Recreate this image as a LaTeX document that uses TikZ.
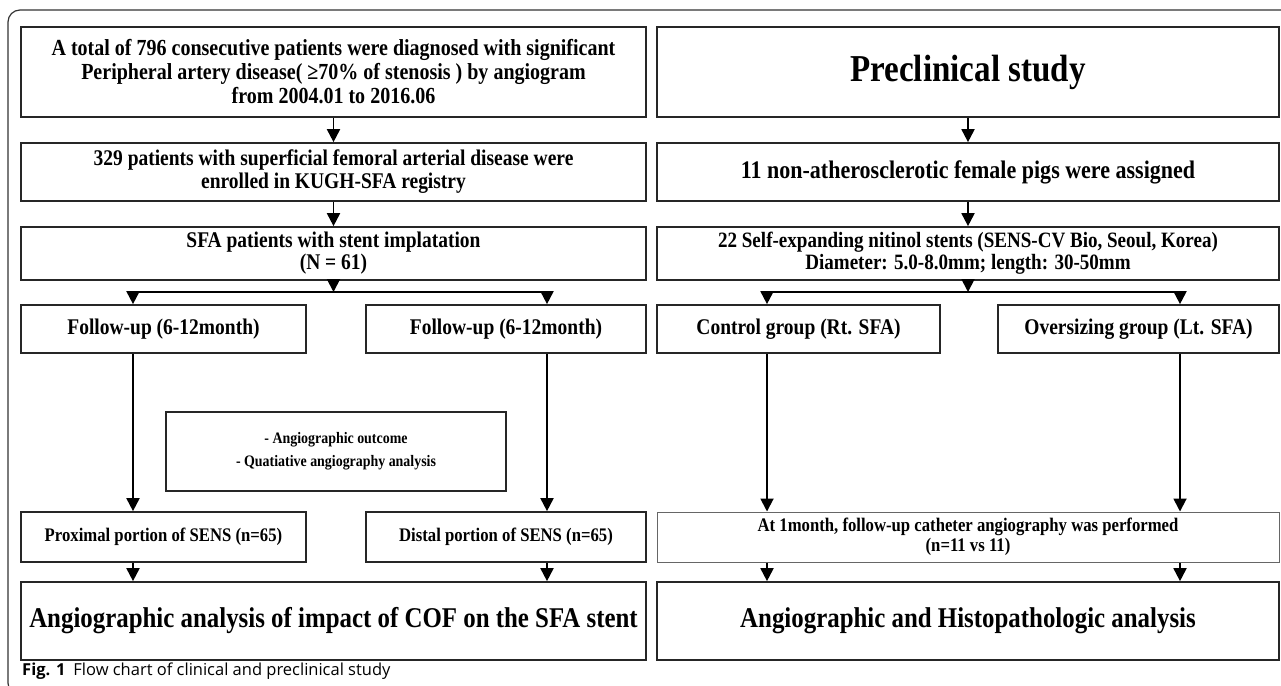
\documentclass[tikz,border=0pt]{standalone}
\usepackage{fontspec}
\setmainfont{Liberation Serif}[FakeStretch=0.87]
\newfontfamily\capfont{Open Sans}
\usetikzlibrary{arrows.meta}
\newcommand\fsz[2]{\fontsize{#1}{#2}\selectfont}
\tikzset{
  box/.style={draw=black!85, line width=1.7pt, inner sep=0pt, align=center},
  thinbox/.style={draw=black!60, line width=1pt, inner sep=0pt, align=center},
  arr/.style={line width=1.9pt, -{Triangle[length=13pt,width=13pt]}},
  ln/.style={line width=1.9pt},
  frame/.style={line width=1.2pt, draw=black!80, rounded corners=12pt},
}
\begin{document}
\begin{tikzpicture}[x=1pt,y=-1pt]
\useasboundingbox (0,0) rectangle (1281,685);
\clip (0,0) rectangle (1281,685);
\draw[frame] (1300,10) -- (8,10) -- (8,695) -- (1300,695);

% left column
\node[box, minimum width=625pt, minimum height=90pt, font=\bfseries\fsz{23}{24}] (L1) at (333.5,72)
 {A total of 796 consecutive patients were diagnosed with significant\\Peripheral artery disease( ≥70\% of stenosis ) by angiogram\\from 2004.01 to 2016.06};
\node[box, minimum width=625pt, minimum height=58pt, font=\bfseries\fsz{22.4}{23}] (L2) at (333.5,172)
 {329 patients with superficial femoral arterial disease were\\enrolled in KUGH-SFA registry};
\node[box, minimum width=625pt, minimum height=53pt, font=\bfseries\fsz{22.4}{22}] (L3) at (333.5,253.5)
 {SFA patients with stent implatation\\(N = 61)};
\node[box, minimum width=285pt, minimum height=48pt, font=\bfseries\fsz{22.4}{23}] (LA) at (163.5,329) {Follow-up (6-12month)};
\node[box, minimum width=280pt, minimum height=48pt, font=\bfseries\fsz{22.4}{23}] (LB) at (506,329) {Follow-up (6-12month)};
\node[box, line width=1.3pt, minimum width=340pt, minimum height=79pt, font=\bfseries\fsz{16}{23}] (O) at (336,451.5)
 {- Angiographic outcome\\- Quatiative angiography analysis};
\node[box, minimum width=285pt, minimum height=50pt, font=\bfseries\fsz{19.2}{20}] (P1) at (163.5,537) {Proximal portion of SENS (n=65)};
\node[box, minimum width=280pt, minimum height=50pt, font=\bfseries\fsz{19.2}{20}] (P2) at (506,537) {Distal portion of SENS (n=65)};
\node[box, minimum width=625pt, minimum height=78pt, font=\bfseries\fsz{28.6}{30}] (L6) at (333.5,621)
 {Angiographic analysis of impact of COF on the SFA stent};

% right column
\node[box, minimum width=622pt, minimum height=90pt, font=\bfseries\fsz{38}{40}] (R1) at (968,72) {Preclinical study};
\node[box, minimum width=622pt, minimum height=58pt, font=\bfseries\fsz{25.3}{26}] (R2) at (968,172) {11 non-atherosclerotic female pigs were assigned};
\node[box, minimum width=622pt, minimum height=53pt, font=\bfseries\fsz{21.9}{22}] (R3) at (968,253.5)
 {22 Self-expanding nitinol stents (SENS-CV Bio, Seoul, Korea)\\Diameter: 5.0-8.0mm; length: 30-50mm};
\node[box, minimum width=283pt, minimum height=48pt, font=\bfseries\fsz{22.4}{23}] (RA) at (798.5,329) {Control group (Rt. SFA)};
\node[box, minimum width=281pt, minimum height=48pt, font=\bfseries\fsz{22.4}{23}] (RB) at (1138.5,329) {Oversizing group (Lt. SFA)};
\node[thinbox, minimum width=622pt, minimum height=50pt, font=\bfseries\fsz{19.2}{20}] (R5) at (968,537)
 {At 1month, follow-up catheter angiography was performed\\(n=11 vs 11)};
\node[box, minimum width=622pt, minimum height=78pt, font=\bfseries\fsz{28.6}{30}] (R6) at (968,621)
 {Angiographic and Histopathologic analysis};

% caption
\node[anchor=west, inner sep=0pt, font=\capfont\fsz{16.5}{19}] (cap) at (22,671)
 {\textbf{Fig. 1}\hspace{8pt}Flow chart of clinical and preclinical study};

% left connectors
\draw[arr] (L1.south) -- (L2.north);
\draw[arr] (L2.south) -- (L3.north);
\coordinate (Lj) at (333.5,292);
\coordinate (La) at (133,292);
\coordinate (Lb) at (547,292);
\draw[arr] (L3.south) -- (Lj);
\draw[ln] (La) -- (Lb);
\draw[arr] (La) -- (La |- LA.north);
\draw[arr] (Lb) -- (Lb |- LB.north);
\draw[arr] (La |- LA.south) -- (La |- P1.north);
\draw[arr] (Lb |- LB.south) -- (Lb |- P2.north);
\draw[arr] (La |- P1.south) -- (La |- L6.north);
\draw[arr] (Lb |- P2.south) -- (Lb |- L6.north);

% right connectors
\draw[arr] (R1.south) -- (R2.north);
\draw[arr] (R2.south) -- (R3.north);
\coordinate (Rj) at (968,292);
\coordinate (Ra) at (767,292);
\coordinate (Rb) at (1180,292);
\draw[arr] (R3.south) -- (Rj);
\draw[ln] (Ra) -- (Rb);
\draw[arr] (Ra) -- (Ra |- RA.north);
\draw[arr] (Rb) -- (Rb |- RB.north);
\draw[arr] (Ra |- RA.south) -- (Ra |- R5.north);
\draw[arr] (Rb |- RB.south) -- (Rb |- R5.north);
\draw[arr] (Ra |- R5.south) -- (Ra |- R6.north);
\draw[arr] (Rb |- R5.south) -- (Rb |- R6.north);
\end{tikzpicture}
\end{document}
